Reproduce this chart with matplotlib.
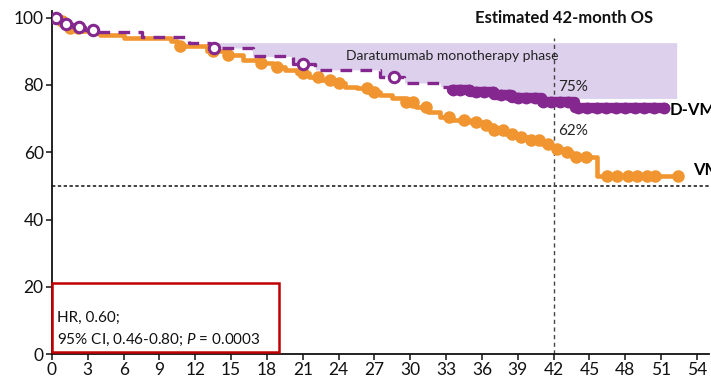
import numpy as np
import matplotlib
matplotlib.use("Agg")
import matplotlib.pyplot as plt
from matplotlib.patches import Rectangle

plt.rcParams['font.family'] = ['Lato', 'DejaVu Sans']
plt.rcParams['mathtext.fontset'] = 'custom'
plt.rcParams['mathtext.it'] = 'Lato:italic'
plt.rcParams['mathtext.rm'] = 'Lato'

# Kaplan-Meier step points (months, % surviving)
vmp_t = [0, 0.5, 1, 1.5, 2.5, 3.5, 4, 6, 10, 10.5, 13, 14.5, 16, 17.5, 18.5, 19.5,
         20.5, 21.5, 22.5, 23.5, 24.5, 25.5, 26.5, 27.5, 28.5, 29.5, 30.5, 31.5,
         32.5, 33.5, 35, 36, 37, 38, 39, 40, 41, 41.8, 42.3, 42.8, 43.5, 45.6, 52.6]
vmp_s = [100, 99, 98, 97, 96, 95.5, 95, 94, 93, 91.5, 90, 89, 87.5, 86.5, 85.5, 84.5,
         83.5, 82.5, 81.5, 80.5, 79.5, 79, 78, 77, 76, 75, 73.5, 72,
         70.5, 69.5, 69, 68, 66.5, 65.5, 64.5, 63.5, 62.5, 62, 61, 60, 58.5, 53, 53]
vmp_censor = [0.8, 1.5, 2.2, 10.7, 13.5, 14.7, 17.5, 18.8, 21, 22.3, 23.3, 24, 26.4,
              27, 29.6, 30.2, 31.3, 33.2, 34.5, 35.5, 36.3, 37, 37.8, 38.5, 39.3,
              40.1, 40.8, 41.5, 42.3, 43.1, 43.9, 44.7, 46.5, 47.3, 48.2, 49, 49.8,
              50.5, 52.4]

dvmp_t = [0, 0.4, 1, 1.8, 2.8, 3.8, 7.5, 11.5, 13.2, 16.8, 20.2, 22, 27.5, 29.5,
          32.5, 33.5, 35, 37, 38.5, 41, 43.8, 51.3]
dvmp_s = [100, 99, 98.2, 97.2, 96.3, 95.8, 94.3, 92.5, 91, 88.5, 86.3, 84.5, 82.5,
          80.6, 79.5, 78.6, 77.8, 77, 76.2, 75, 73.2, 73.2]
dvmp_open = [0.3, 1.2, 2.3, 3.4, 13.6, 21.0, 28.6]
dvmp_censor = [33.6, 34.2, 34.9, 35.5, 36.2, 36.9, 37.6, 38.3, 39, 39.7, 40.4, 41.1,
               41.8, 42.5, 43.2, 44, 44.8, 45.6, 46.4, 47.2, 48, 48.8, 49.6, 50.4, 51.2]

landmark = 42
est_os = {'D-VMP': 75, 'VMP': 62}
x_ticks = list(range(0, 55, 3))
y_ticks = list(range(0, 101, 20))

ORANGE = '#f0952f'
PURPLE = '#84288f'
SHADE = '#ddd0ec'


def km_at(t_steps, s_steps, t):
    t_steps = np.asarray(t_steps)
    s_steps = np.asarray(s_steps)
    idx = np.searchsorted(t_steps, np.asarray(t), side='right') - 1
    return s_steps[np.clip(idx, 0, len(s_steps) - 1)]


fig = plt.figure(figsize=(7.11, 3.88), dpi=100)
ax = fig.add_axes([0.0731, 0.0876, 0.924, 0.884])
ax.set_xlim(0, 55)
ax.set_ylim(0, 102)

# daratumumab monotherapy shading
tt = np.linspace(13.5, 52.3, 800)
ax.fill_between(tt, np.maximum(km_at(dvmp_t, dvmp_s, tt), 76), 92.6,
                color=SHADE, lw=0, zorder=0)

# reference lines
ax.axhline(50, color='#222222', lw=1.2, ls=(0, (2, 1.5)), zorder=1)
ax.plot([landmark, landmark], [0, 94], color='#444444', lw=1.0,
        ls=(0, (3, 2.5)), zorder=1)

# VMP arm
ax.step(vmp_t, vmp_s, where='post', color=ORANGE, lw=3.3, zorder=3,
        solid_joinstyle='round')
ax.plot(vmp_censor, km_at(vmp_t, vmp_s, vmp_censor), 'o', color=ORANGE,
        ms=8, mec=ORANGE, zorder=3)

# D-VMP arm: sparse early part dashed, dense censoring later
split = 33.5
t_arr = np.asarray(dvmp_t)
early = t_arr <= split
ax.step(t_arr[early], np.asarray(dvmp_s)[early], where='post', color=PURPLE,
        lw=2.4, ls=(0, (3.5, 2.5)), zorder=4)
late_t = np.concatenate([[split], t_arr[~early]])
late_s = km_at(dvmp_t, dvmp_s, late_t)
ax.step(late_t, late_s, where='post', color=PURPLE, lw=7.5, zorder=4,
        solid_capstyle='round')
ax.plot(dvmp_censor, km_at(dvmp_t, dvmp_s, dvmp_censor), 'o', color=PURPLE,
        ms=7.5, mec=PURPLE, zorder=4)
ax.plot(dvmp_open, km_at(dvmp_t, dvmp_s, dvmp_open), 'o', mfc='white',
        mec=PURPLE, mew=2.2, ms=7.5, zorder=5)

# annotations
ax.text(42.9, 100, 'Estimated 42-month OS', ha='center', va='center',
        fontsize=12, fontweight='bold', color='#111111')
ax.text(33.5, 88.7, 'Daratumumab monotherapy phase', ha='center', va='center',
        fontsize=10, color='#222222')
ax.text(42.4, 79.5, f"{est_os['D-VMP']}%", ha='left', va='center', fontsize=11,
        color='#222222')
ax.text(42.4, 66.4, f"{est_os['VMP']}%", ha='left', va='center', fontsize=11,
        color='#222222')
ax.text(51.75, 72.5, 'D-VMP', ha='left', va='center', fontsize=12,
        fontweight='bold', clip_on=False)
ax.text(53.7, 54.8, 'VMP', ha='left', va='center', fontsize=12,
        fontweight='bold', clip_on=False)

# hazard ratio box
ax.add_patch(Rectangle((0, 0.6), 19, 20.5, fill=False, ec='#c00000', lw=1.8,
                       zorder=6, clip_on=False))
ax.text(0.42, 10.8, 'HR, 0.60;', ha='left', va='center', fontsize=11,
        color='#111111')
ax.text(0.42, 4.2, '95% CI, 0.46-0.80; $P$ = 0.0003', ha='left', va='center',
        fontsize=11, color='#111111')

# axes styling
for side in ('top', 'right'):
    ax.spines[side].set_visible(False)
for side in ('left', 'bottom'):
    ax.spines[side].set_linewidth(1.3)
    ax.spines[side].set_color('#111111')
ax.set_xticks(x_ticks)
ax.set_yticks(y_ticks)
ax.tick_params(axis='both', direction='out', length=4, width=1.1,
               labelsize=12.5, colors='#111111', pad=2)

fig.savefig('out.png', dpi=100)
